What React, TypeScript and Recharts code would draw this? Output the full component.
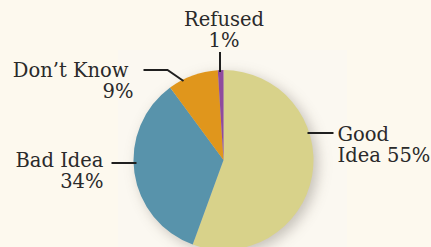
import { Cell, Pie, PieChart } from 'recharts'

const categories = ['Good Idea', 'Bad Idea', "Don't Know", 'Refused']
const shares = [55, 34, 9, 1]
const labelLines: string[][] = [
  ['Good', 'Idea 55%'],
  ['Bad Idea', '34%'],
  ["Don\u2019t Know", '9%'],
  ['Refused', '1%'],
]

const COLORS = ['#d8d28a', '#5893ab', '#e0961c', '#8f4b9e']

// leader line points + text anchor, relative to the pie centre
const LABEL_LAYOUT = [
  { line: [[84, -27], [110, -27]], x: 114, y: -19, x2: 0, anchor: 'start' },
  { line: [[-112, 3], [-87, 3]], x: -120, y: 7, x2: 0, anchor: 'end' },
  { line: [[-80, -90], [-56, -90], [-40, -79]], x: -95, y: -83, x2: 5, anchor: 'end' },
  { line: [[-3.5, -108], [-3.5, -88]], x: 0.5, y: -134, x2: 0, anchor: 'middle' },
]

const data = categories.map((name, i) => ({ name, value: shares[i] }))

const FONT = '"DejaVu Serif", serif'

function renderLabel(props: any) {
  const { cx, cy, index } = props
  const layout = LABEL_LAYOUT[index]
  const lines = labelLines[index]
  const pts = layout.line.map(([x, y]) => `${cx + x},${cy + y}`).join(' ')
  return (
    <g key={`lbl-${index}`}>
      <polyline points={pts} fill="none" stroke="#1f1f1f" strokeWidth={2} />
      <text
        x={cx + layout.x}
        y={cy + layout.y}
        textAnchor={layout.anchor}
        fontFamily={FONT}
        fontSize={19.5}
        fill="#2a2a2a"
      >
        {lines.map((t, j) => (
          <tspan key={j} x={cx + layout.x + (j === 0 ? 0 : layout.x2)} dy={j === 0 ? 0 : 21}>
            {t}
          </tspan>
        ))}
      </text>
    </g>
  )
}

export default function App() {
  return (
    <div
      style={{
        position: 'fixed',
        left: 0,
        top: 0,
        width: 431,
        height: 247,
        background: '#fdf9ee',
        overflow: 'hidden',
      }}
    >
      <style>{'.pie-shadow { filter: blur(5px); }'}</style>
      <div
        style={{
          position: 'absolute',
          left: 118,
          top: 50,
          width: 229,
          height: 197,
          background: '#fbf8f1',
        }}
      />
      <div style={{ position: 'absolute', left: 0, top: 0 }}>
        <PieChart width={431} height={247} margin={{ top: 0, right: 0, bottom: 0, left: 0 }}>
          <Pie
            className="pie-shadow"
            data={data}
            dataKey="value"
            nameKey="name"
            cx={228}
            cy={164}
            outerRadius={90}
            startAngle={90}
            endAngle={-270}
            stroke="none"
            fill="rgba(60,50,40,0.28)"
            isAnimationActive={false}
          />
          <Pie
            data={data}
            dataKey="value"
            nameKey="name"
            cx={223.5}
            cy={160}
            outerRadius={90}
            startAngle={90}
            endAngle={-270}
            stroke="none"
            label={renderLabel}
            labelLine={false}
            isAnimationActive={false}
          >
            {data.map((d, i) => (
              <Cell key={d.name} fill={COLORS[i]} />
            ))}
          </Pie>
        </PieChart>
      </div>
    </div>
  )
}
